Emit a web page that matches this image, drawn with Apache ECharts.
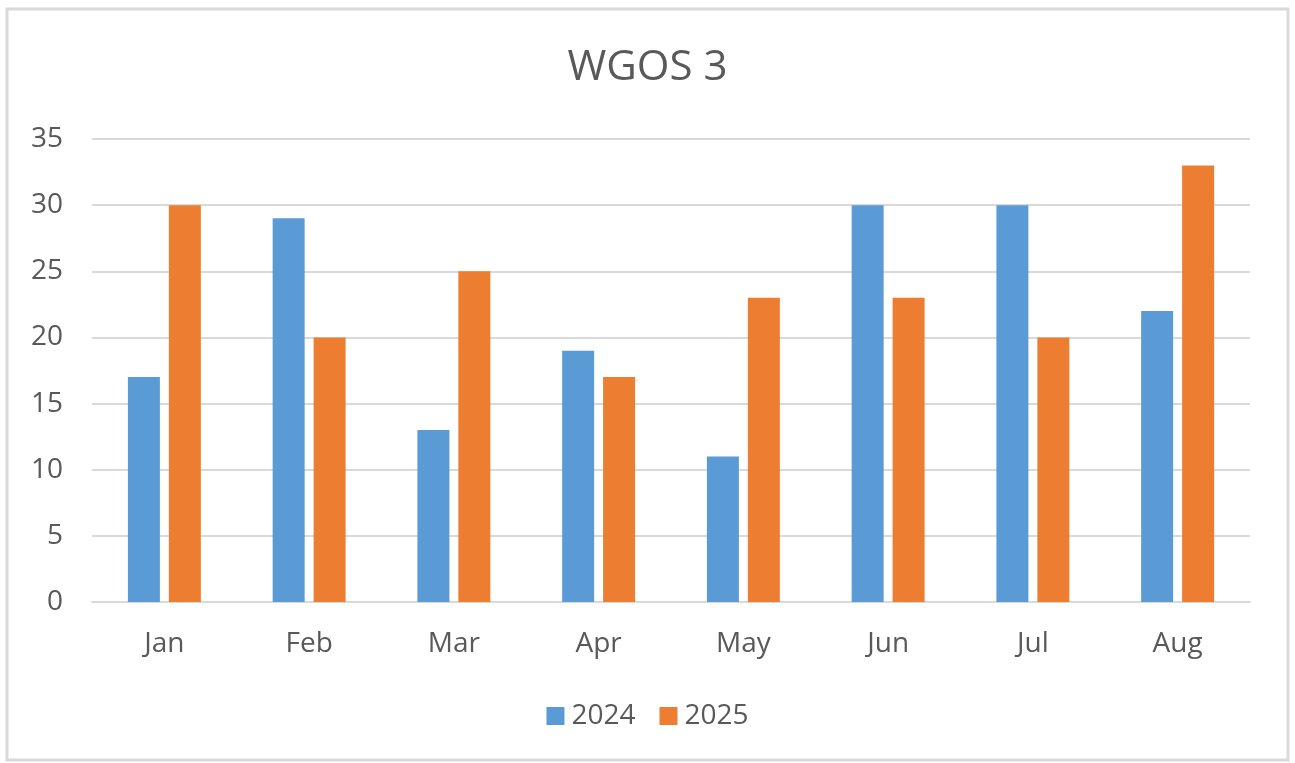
<!DOCTYPE html>
<html><head><meta charset="utf-8">
<script src="https://cdn.jsdelivr.net/npm/echarts@6/dist/echarts.min.js"></script>
<style>html,body{margin:0;padding:0;background:#fff}#c{width:1295px;height:763px}</style>
</head><body><div id="c"></div>
<script>
const categories = ['Jan','Feb','Mar','Apr','May','Jun','Jul','Aug'];
const series2024 = [17, 29, 13, 19, 11, 30, 30, 22];
const series2025 = [30, 20, 25, 17, 23, 23, 20, 33];
const seriesNames = ['2024', '2025'];

const chart = echarts.init(document.getElementById('c'), null, {renderer: 'canvas'});
const font = '"Open Sans", "Noto Sans", sans-serif';
chart.setOption({
  animation: false,
  backgroundColor: '#fff',
  graphic: [{
    type: 'rect', shape: {x: 7, y: 9, width: 1281, height: 751},
    style: {fill: 'none', stroke: '#d9d9d9', lineWidth: 3}, silent: true
  }],
  title: {
    text: 'WGOS 3', left: 'center', top: 42,
    textStyle: {fontFamily: font, fontSize: 42, fontWeight: 'normal', color: '#595959'}
  },
  legend: {
    data: seriesNames, bottom: 28, left: 'center', itemWidth: 18, itemHeight: 18, itemGap: 24,
    icon: 'rect',
    textStyle: {fontFamily: font, fontSize: 28, color: '#595959', padding: [0,0,0,2]}
  },
  grid: {left: 92, right: 45, top: 139, bottom: 161, containLabel: false},
  xAxis: {
    type: 'category', data: categories,
    axisLine: {lineStyle: {color: '#d9d9d9', width: 2}},
    axisTick: {show: false},
    axisLabel: {fontFamily: font, fontSize: 28, color: '#595959', margin: 28}
  },
  yAxis: {
    type: 'value', min: 0, max: 35, interval: 5,
    axisLine: {show: false}, axisTick: {show: false},
    splitLine: {lineStyle: {color: '#d9d9d9', width: 2}},
    axisLabel: {fontFamily: font, fontSize: 28, color: '#595959', margin: 29}
  },
  series: [
    {name: seriesNames[0], type: 'bar', data: series2024, barWidth: 32, barGap: '28%', itemStyle: {color: '#5B9BD5'}},
    {name: seriesNames[1], type: 'bar', data: series2025, barWidth: 32, barGap: '28%', itemStyle: {color: '#ED7D31'}}
  ]
});
</script></body></html>
